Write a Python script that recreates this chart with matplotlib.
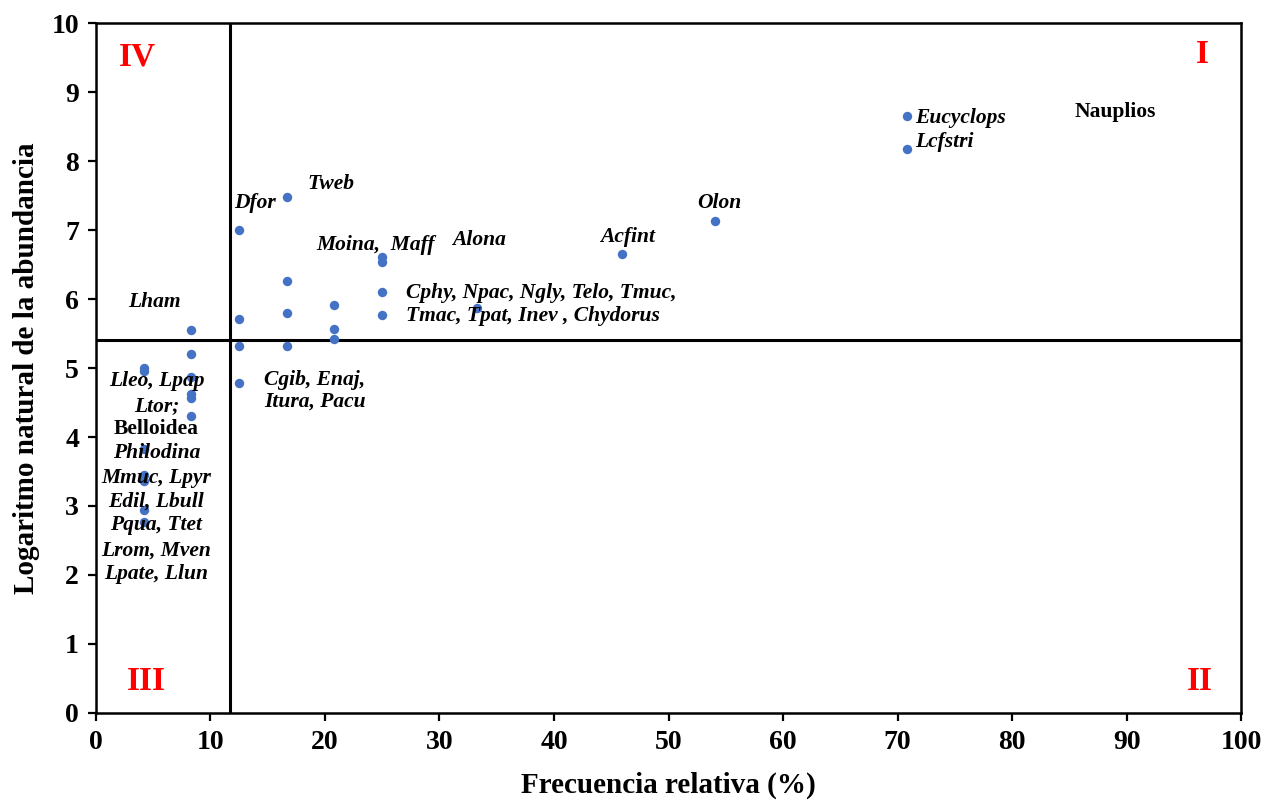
import matplotlib
matplotlib.use('Agg')
import matplotlib.pyplot as plt
import numpy as np

plt.rcParams['font.family'] = ['Liberation Serif', 'DejaVu Serif']
plt.rcParams['font.weight'] = 'bold'

# Points: frecuencia relativa (%) and ln(abundancia)
freq = [70.8, 70.8, 54.1, 45.9, 33.3,
        25.0, 25.0, 25.0, 25.0,
        20.8, 20.8, 20.8,
        16.7, 16.7, 16.7, 16.7,
        12.5, 12.5, 12.5, 12.5,
        8.3, 8.3, 8.3, 8.3, 8.3, 8.3,
        4.2, 4.2, 4.2, 4.2, 4.2, 4.2, 4.2]
ln_abund = [8.65, 8.17, 7.13, 6.65, 5.87,
            6.61, 6.54, 6.10, 5.77,
            5.91, 5.57, 5.42,
            7.48, 6.26, 5.80, 5.32,
            7.00, 5.71, 5.32, 4.78,
            5.55, 5.20, 4.87, 4.62, 4.56, 4.30,
            5.00, 4.95, 3.83, 3.45, 3.36, 2.94, 2.77]

# Quadrant limits
x_cut = 11.7
y_cut = 5.41

# Species labels: text, x, y, alignment, italic
labels = [
    ('Nauplios', 89.0, 8.71, 'center', False),
    ('Eucyclops', 71.5, 8.62, 'left', True),
    ('Lcfstri', 71.5, 8.28, 'left', True),
    ('Olon', 54.4, 7.39, 'center', True),
    ('Acfint', 46.4, 6.90, 'center', True),
    ('Alona', 33.5, 6.86, 'center', True),
    ('Moina,  Maff', 24.4, 6.78, 'center', True),
    ('Tweb', 20.5, 7.67, 'center', True),
    ('Dfor', 13.9, 7.39, 'center', True),
    ('Cphy, Npac, Ngly, Telo, Tmuc,', 27.1, 6.09, 'left', True),
    ('Tmac, Tpat, Inev , Chydorus', 27.1, 5.75, 'left', True),
    ('Lham', 5.15, 5.96, 'center', True),
    ('Cgib, Enaj,', 14.7, 4.83, 'left', True),
    ('Itura, Pacu', 14.7, 4.51, 'left', True),
    ('Lleo, Lpap', 5.3, 4.81, 'center', True),
    ('Ltor;', 5.3, 4.45, 'center', True),
    ('Belloidea', 5.3, 4.12, 'center', False),
    ('Philodina', 5.3, 3.77, 'center', True),
    ('Mmuc, Lpyr', 5.3, 3.41, 'center', True),
    ('Edil, Lbull', 5.3, 3.06, 'center', True),
    ('Pqua, Ttet', 5.3, 2.72, 'center', True),
    ('Lrom, Mven', 5.3, 2.36, 'center', True),
    ('Lpate, Llun', 5.3, 2.01, 'center', True),
]

quadrants = [('IV', 3.6, 9.51), ('I', 96.6, 9.54), ('III', 4.45, 0.45), ('II', 96.4, 0.45)]

fig = plt.figure(figsize=(12.77, 8.05), dpi=100)
ax = fig.add_axes([0.075, 0.1143, 0.897, 0.8571])

ax.scatter(freq, ln_abund, s=46, color='#4472C4', zorder=3, linewidths=0)

ax.axvline(x_cut, color='black', lw=2.2, zorder=2)
ax.axhline(y_cut, color='black', lw=2.2, zorder=2)

for txt, x, y, ha, it in labels:
    ax.text(x, y, txt, ha=ha, va='center', fontsize=15.5, fontweight='bold',
            fontstyle='italic' if it else 'normal', zorder=4)

for txt, x, y in quadrants:
    ax.text(x, y, txt, ha='center', va='center', fontsize=24, fontweight='bold',
            color='red')

ax.set_xlim(0, 100)
ax.set_ylim(0, 10)
ax.set_xticks(np.arange(0, 101, 10))
ax.set_yticks(np.arange(0, 11, 1))
ax.tick_params(direction='out', length=6, width=1.6, labelsize=20, pad=6)
for lab in ax.get_xticklabels() + ax.get_yticklabels():
    lab.set_fontweight('bold')
for sp in ax.spines.values():
    sp.set_linewidth(1.8)

ax.set_xlabel('Frecuencia relativa (%)', fontsize=21, fontweight='bold', labelpad=12)
ax.set_ylabel('Logaritmo natural de la abundancia', fontsize=21, fontweight='bold', labelpad=8)

fig.savefig('out.png', dpi=100)
